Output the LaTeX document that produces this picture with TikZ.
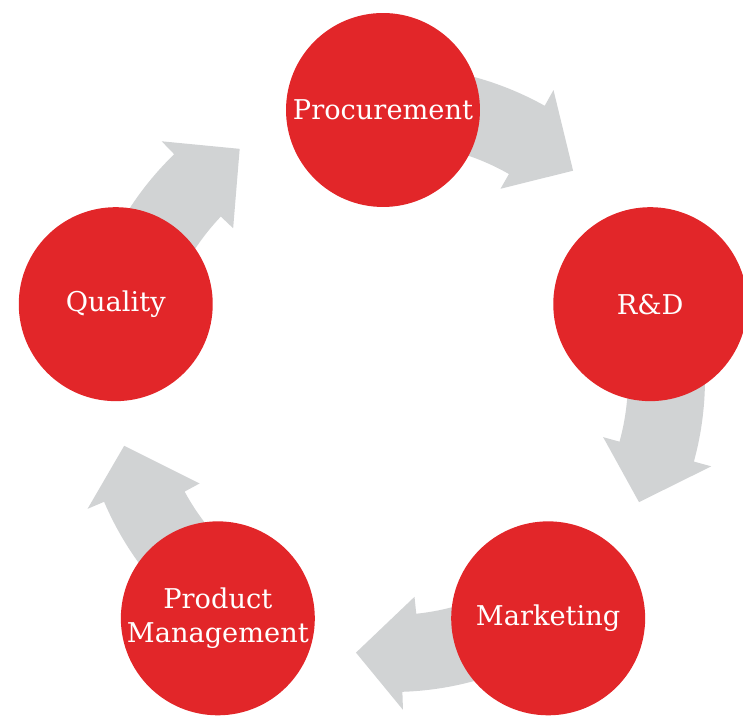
\documentclass[tikz,border=0pt]{standalone}
\usepackage{fontspec}
\setmainfont{DejaVu Serif}
\usetikzlibrary{positioning, backgrounds}
\definecolor{cred}{HTML}{E22629}
\definecolor{cgrey}{HTML}{D1D3D4}
\tikzset{
  every picture/.style={x=0.02cm, y=0.02cm},
  stage/.style={circle, fill=cred, text=white, inner sep=0pt, minimum size=3.88cm,
    align=center, font=\fontsize{15.5}{19.5}\selectfont},
  flow/.style={fill=cgrey},
}

\begin{document}
\begin{tikzpicture}
  \useasboundingbox (0,0) rectangle (743,716);
  \coordinate (hub) at (383,325);
  \coordinate (ring) at (392,337);
  % the five stages sit on a pentagon of radius 281 round the hub
  \node[stage] (proc) at ([shift={(hub)}]90:281)   {Procurement};
  \node[stage] (rd)   at ([shift={(hub)}]18:281)   {R\&D};
  \node[stage] (mkt)  at ([shift={(hub)}]-54:281)  {Marketing};
  \node[stage] (pm)   at ([shift={(hub)}]-126:281) {Product\\Management};
  \node[stage] (qual) at ([shift={(hub)}]162:281)  {Quality};
  % block arrows, clockwise, tucked behind the circles
  % start / inner barb / outer barb / point, as angles round the ring
  \begin{scope}[on background layer, shift={(ring)}]
    \foreach \a/\bi/\bo/\c in {90/60.3/60.8/49, 18/-15.4/-15.3/-26.5,
        -54/-84.1/-88.1/-97.5, -126/-151.5/-156.9/-166, 162/136.5/134.1/123.5}
      \fill[flow] (\a:236) arc[start angle=\a, end angle=\bi, radius=236]
        -- (\bi:219) -- (\c:276) -- (\bo:331) -- (\bo:313)
        arc[start angle=\bo, end angle=\a, radius=313] -- cycle;
  \end{scope}
\end{tikzpicture}
\end{document}
